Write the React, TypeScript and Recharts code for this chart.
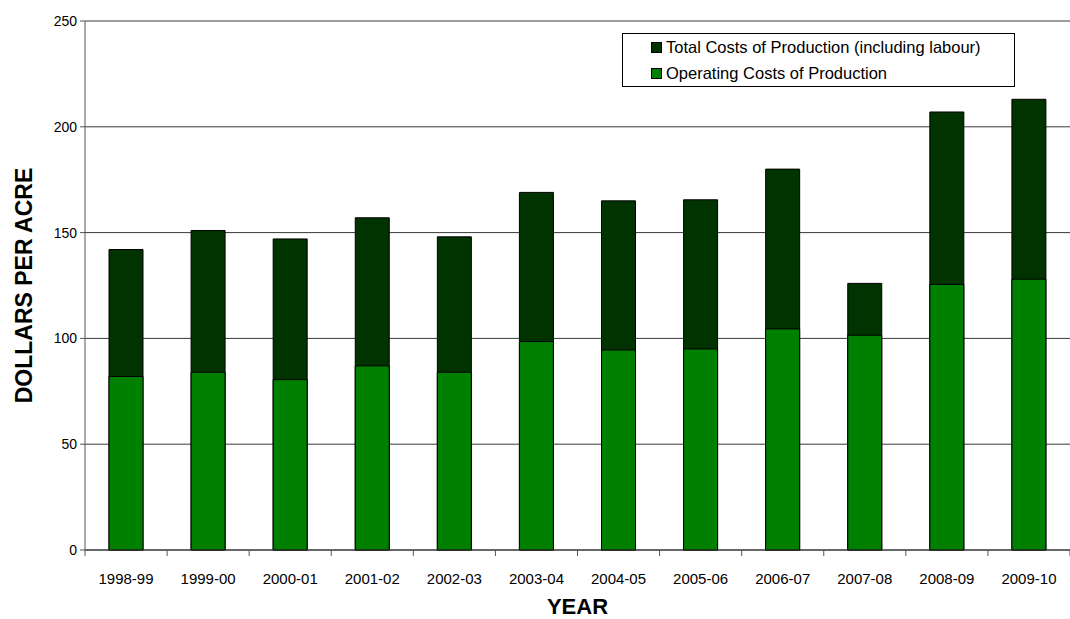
import { BarChart, Bar, XAxis, YAxis, CartesianGrid, Legend } from "recharts";

const years = [
  "1998-99", "1999-00", "2000-01", "2001-02", "2002-03", "2003-04",
  "2004-05", "2005-06", "2006-07", "2007-08", "2008-09", "2009-10",
];
const totalCosts = [142, 151, 147, 157, 148, 169, 165, 165.5, 180, 126, 207, 213];
const operatingCosts = [82, 84, 80.5, 87, 84, 98.5, 94.5, 95, 104.5, 101.5, 125.5, 128];
const yTicks = [0, 50, 100, 150, 200, 250];

const data = years.map((year, i) => ({
  year,
  total: totalCosts[i],
  operating: operatingCosts[i],
}));

const FONT = "'Liberation Sans', Arial, sans-serif";
const TOTAL_COLOR = "#003300";
const OPERATING_COLOR = "#008000";
const X_TICK_SIZE = 6;
const X_TICK_MARGIN = 17;

const legendItems = [
  { label: "Total Costs of Production (including labour)", color: TOTAL_COLOR },
  { label: "Operating Costs of Production", color: OPERATING_COLOR },
];

const LegendBox = () => (
  <div
    style={{
      width: 391,
      height: 52,
      border: "1px solid #000",
      background: "#fff",
      fontFamily: FONT,
      fontSize: 16.5,
      color: "#000",
      boxSizing: "content-box",
    }}
  >
    {legendItems.map((it) => (
      <div
        key={it.label}
        style={{ display: "flex", alignItems: "center", height: 26, paddingLeft: 28 }}
      >
        <span
          style={{
            width: 9,
            height: 9,
            background: it.color,
            border: "1px solid #000",
            marginRight: 4,
            display: "inline-block",
          }}
        />
        {it.label}
      </div>
    ))}
  </div>
);

// category label plus tick marks on the band edges (ticks sit between categories)
const YearTick = (props: any) => {
  const { x, y, payload, index, visibleTicksCount } = props;
  const half = payload.offset || 0;
  const axisY = y - X_TICK_SIZE - X_TICK_MARGIN;
  const isLast = index === visibleTicksCount - 1;
  return (
    <g>
      <line x1={x - half} x2={x - half} y1={axisY} y2={axisY + X_TICK_SIZE} stroke="#555" />
      {isLast && (
        <line x1={x + half} x2={x + half} y1={axisY} y2={axisY + X_TICK_SIZE} stroke="#555" />
      )}
      <text
        x={x}
        y={y}
        dy={11}
        textAnchor="middle"
        fill="#000"
        fontSize={15}
        fontFamily={FONT}
      >
        {payload.value}
      </text>
    </g>
  );
};

const App = () => {
  return (
    <div style={{ position: "absolute", left: 0, top: 0, background: "#fff" }}>
      <BarChart
        width={1070}
        height={619}
        data={data}
        margin={{ top: 21, right: 0, left: 0, bottom: 0 }}
        barSize={34}
      >
        <CartesianGrid vertical={false} stroke="#3a3a3a" strokeWidth={1} />
        <XAxis
          xAxisId="main"
          dataKey="year"
          height={69}
          tickLine={false}
          tickSize={X_TICK_SIZE}
          tickMargin={X_TICK_MARGIN}
          axisLine={{ stroke: "#333" }}
          tick={<YearTick />}
          interval={0}
          label={{
            value: "YEAR",
            position: "insideBottom",
            offset: 5,
            fill: "#000",
            fontSize: 22,
            fontWeight: "bold",
            fontFamily: FONT,
          }}
        />
        <XAxis xAxisId="over" dataKey="year" hide />
        <YAxis
          width={85}
          domain={[0, 250]}
          ticks={yTicks}
          interval={0}
          tickSize={5}
          tickMargin={3}
          axisLine={{ stroke: "#555" }}
          tickLine={{ stroke: "#555" }}
          tick={{ fill: "#000", fontSize: 14, fontFamily: FONT }}
          label={{
            value: "DOLLARS PER ACRE",
            angle: -90,
            position: "insideLeft",
            offset: 24,
            fill: "#000",
            fontSize: 23,
            fontWeight: "bold",
            fontFamily: FONT,
            style: { textAnchor: "middle" },
          }}
        />
        <Legend
          layout="horizontal"
          verticalAlign="middle"
          align="center"
          content={() => <LegendBox />}
          wrapperStyle={{ top: 33, left: 622, width: 393, height: 54 }}
        />
        <Bar
          xAxisId="main"
          dataKey="total"
          name="Total Costs of Production (including labour)"
          fill={TOTAL_COLOR}
          stroke="#000"
          strokeWidth={1}
          isAnimationActive={false}
        />
        <Bar
          xAxisId="over"
          dataKey="operating"
          name="Operating Costs of Production"
          fill={OPERATING_COLOR}
          stroke="#000"
          strokeWidth={1}
          isAnimationActive={false}
        />
      </BarChart>
    </div>
  );
};

export default App;
